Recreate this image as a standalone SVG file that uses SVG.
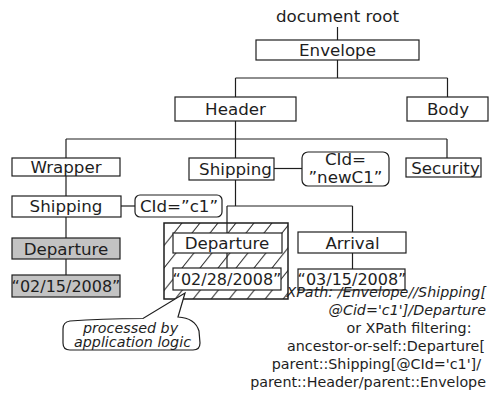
<svg xmlns="http://www.w3.org/2000/svg" width="489" height="398" viewBox="0 0 489 398">
  <style>
    .box { fill: #ffffff; stroke: #1e1e1e; stroke-width: 1.2; }
    .grey { fill: #c3c3c3; }
    .attr { fill: #ffffff; stroke: #1e1e1e; stroke-width: 1.2; }
    .wire { fill: none; stroke: #1e1e1e; stroke-width: 1.2; }
    .lbl { font-family: "DejaVu Sans", "Liberation Sans", sans-serif; font-size: 16.7px; fill: #1e1e1e; text-anchor: middle; }
    .date { font-size: 16px; }
    .note { font-family: "DejaVu Sans", "Liberation Sans", sans-serif; font-size: 14.3px; fill: #1e1e1e; text-anchor: end; }
    .mid { text-anchor: middle; }
    .it { font-style: italic; }
  </style>
  <defs>
    <pattern id="hatch" patternUnits="userSpaceOnUse" x="164" y="223" width="18" height="22.5">
      <path d="M0,22.5 L18,0 M-4.5,5.6 L4.5,-5.6 M13.5,28.1 L22.5,16.9" stroke="#1e1e1e" stroke-width="1" fill="none"/>
    </pattern>
  </defs>

  <rect width="489" height="398" fill="#ffffff"/>

  <!-- tree connectors -->
  <g id="connectors" class="wire">
    <path d="M337.5,27 V40"/>
    <path d="M337.5,60 V78 M235.5,78 H447.5 M235.5,78 V97 M447.5,78 V97"/>
    <path d="M235.5,121 V158 M66,139 H447 M66,139 V158 M447,139 V158"/>
    <path d="M66,176 V196 M66,217 V238 M66,259 V275"/>
    <path d="M121,206 H135"/>
    <path d="M274,168.5 H302"/>
    <path d="M235.5,180 V206 M227,206 H352.5 M227,206 V223 M352.5,206 V232 M352.5,253 V269"/>
  </g>

  <g id="root">
    <text class="lbl" x="337.5" y="22">document root</text>
  </g>

  <g id="envelope">
    <rect class="box" x="256" y="40" width="163" height="20"/>
    <text class="lbl" x="337.5" y="56">Envelope</text>
  </g>

  <g id="header">
    <rect class="box" x="175" y="97" width="121" height="24"/>
    <text class="lbl" x="235.5" y="115">Header</text>
  </g>

  <g id="body">
    <rect class="box" x="407" y="97" width="81" height="24"/>
    <text class="lbl" x="448" y="115">Body</text>
  </g>

  <g id="wrapper">
    <rect class="box" x="12" y="158" width="108" height="18"/>
    <text class="lbl" x="66" y="173">Wrapper</text>
  </g>

  <g id="shipping-c1">
    <rect class="box" x="12" y="196" width="109" height="21"/>
    <text class="lbl" x="66" y="212">Shipping</text>
  </g>

  <g id="attr-c1">
    <rect class="attr" x="135" y="195" width="87" height="22" rx="5"/>
    <text class="lbl" x="179" y="212">CId=”c1”</text>
  </g>

  <g id="departure-old">
    <rect class="box grey" x="12" y="238" width="108" height="21"/>
    <text class="lbl" x="66" y="255">Departure</text>
  </g>

  <g id="date-old">
    <rect class="box grey" x="12" y="275" width="108" height="22"/>
    <text class="lbl date" x="66" y="291.5">“02/15/2008”</text>
  </g>

  <g id="shipping-new">
    <rect class="box" x="189" y="158" width="85" height="22"/>
    <text class="lbl" x="235.5" y="175">Shipping</text>
  </g>

  <g id="attr-new">
    <rect class="attr" x="302" y="152" width="87" height="34" rx="6"/>
    <text class="lbl" x="345.5" y="165">CId=</text>
    <text class="lbl" x="345.5" y="183">”newC1”</text>
  </g>

  <g id="security">
    <rect class="box" x="406" y="158" width="75" height="19"/>
    <text class="lbl" x="445.5" y="173.5">Security</text>
  </g>

  <!-- hatched region holding the processed Departure -->
  <g id="processed-region">
    <rect x="164" y="223" width="124" height="76" fill="url(#hatch)" stroke="#1e1e1e" stroke-width="1.5"/>
    <path class="wire" d="M227,223 V268"/>
  </g>

  <g id="departure-new">
    <rect class="box" x="173" y="233" width="109" height="20"/>
    <text class="lbl" x="227" y="248.5">Departure</text>
  </g>

  <g id="date-new">
    <rect class="box" x="173" y="268" width="108" height="22"/>
    <text class="lbl date" x="227" y="284.5">“02/28/2008”</text>
  </g>

  <g id="arrival">
    <rect class="box" x="298" y="232" width="108" height="21"/>
    <text class="lbl" x="352.5" y="248.5">Arrival</text>
  </g>

  <g id="date-arrival">
    <rect class="box" x="298" y="269" width="107" height="21"/>
    <text class="lbl date" x="352" y="285">“03/15/2008”</text>
  </g>

  <!-- callout bubble -->
  <g id="callout">
    <path d="M70,321 Q100,318.5 143,318.5 L185,293 L178,317 Q195,318 199,331 L200,343 Q200,350 193,350 L70,350 Q63,350 63,343 L63,329 Q63,322 70,321 Z" fill="#ffffff" stroke="#1e1e1e" stroke-width="1.2"/>
    <text class="note it mid" x="130.5" y="333">processed by</text>
    <text class="note it mid" x="132.5" y="347">application logic</text>
  </g>

  <!-- query annotation -->
  <g id="xpath-note">
    <text class="note it" x="486" y="297">XPath: /Envelope//Shipping[</text>
    <text class="note it" x="486" y="315">@Cid='c1']/Departure</text>
    <text class="note" x="471.5" y="333">or XPath filtering:</text>
    <text class="note" x="485" y="351">ancestor-or-self::Departure[</text>
    <text class="note" x="481" y="369">parent::Shipping[@CId='c1']/</text>
    <text class="note" x="486" y="387">parent::Header/parent::Envelope</text>
  </g>
</svg>
